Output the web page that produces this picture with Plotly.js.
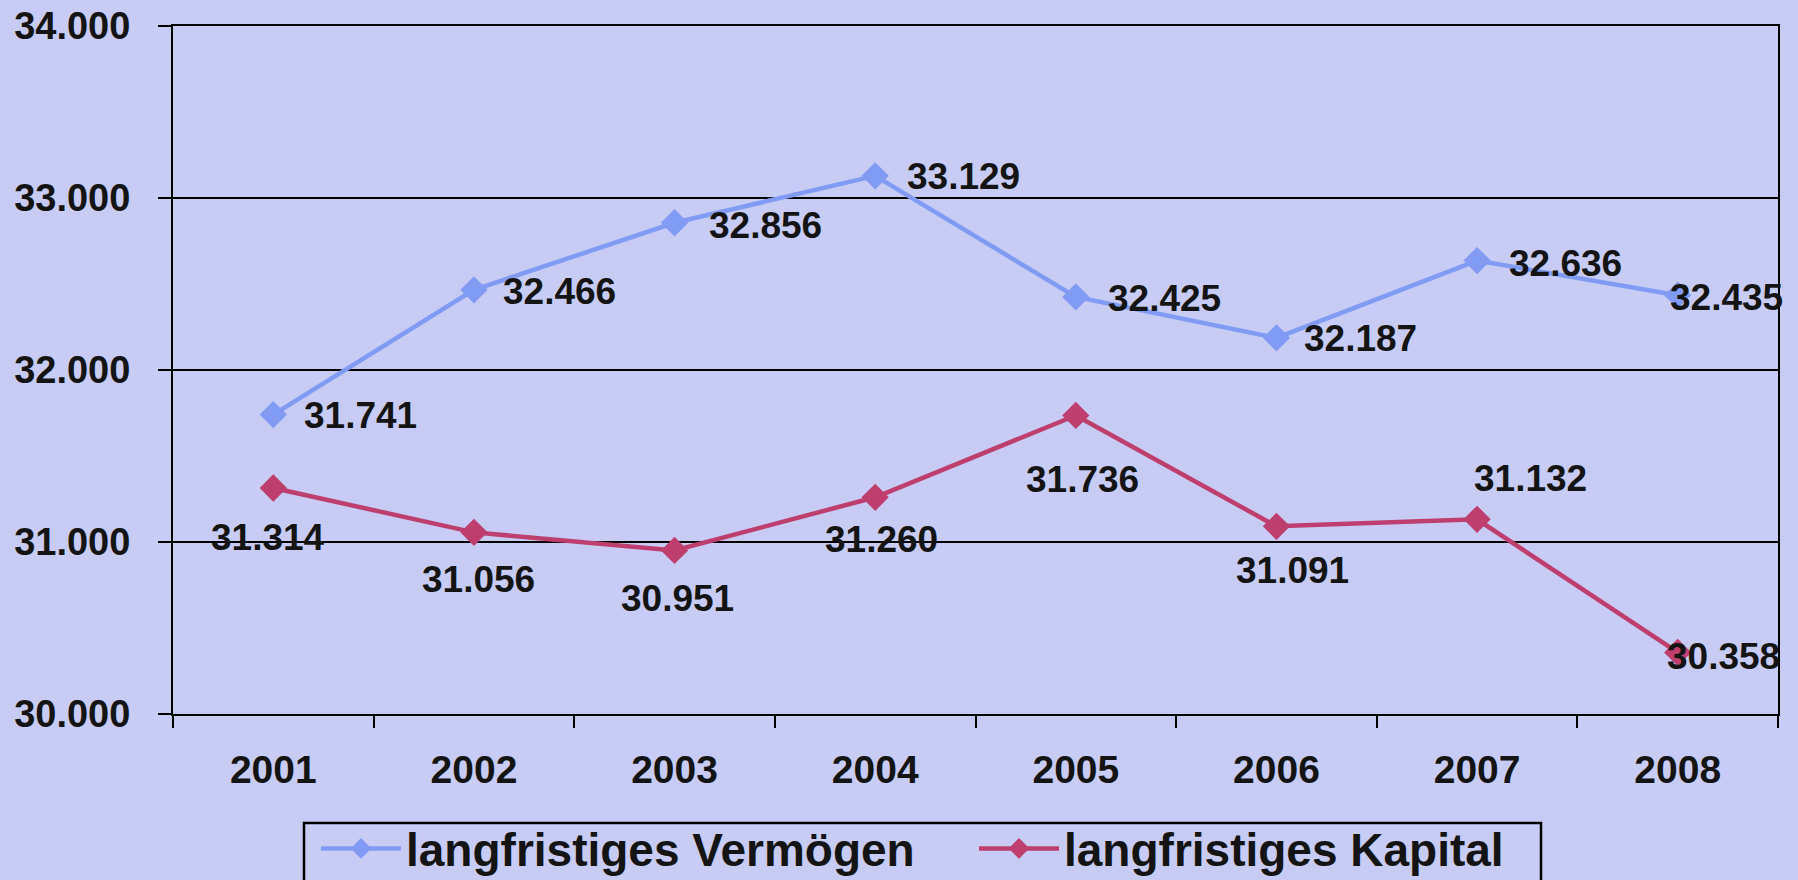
<!DOCTYPE html>
<html>
<head>
<meta charset="utf-8">
<script src="https://cdn.plot.ly/plotly-3.0.1.min.js"></script>
<style>
  html, body { margin: 0; padding: 0; background: #C8CCF5; }
  #chart { width: 1798px; height: 880px; }
</style>
</head>
<body>
<div id="chart"></div>
<script>
// ---- data ----
const years = ['2001', '2002', '2003', '2004', '2005', '2006', '2007', '2008'];
const seriesNames = ['langfristiges Vermögen', 'langfristiges Kapital'];
const vermoegen = [31741, 32466, 32856, 33129, 32425, 32187, 32636, 32435];
const kapital = [31314, 31056, 30951, 31260, 31736, 31091, 31132, 30358];
const yTickVals = [30000, 31000, 32000, 33000, 34000];
const yTickText = ['30.000', '31.000', '32.000', '33.000', '34.000'];

// ---- label placement (pixel offsets, style only) ----
const vermLabelDx = [29, 27, 32, 30, 30, 26, 30, -10];
const vermLabelDy = [-1, -2, -3, -1, -2, -1, -3, -2];
const kapLabelDx = [-5, 5, 3, 6, 7, 16, 53, 46];
const kapLabelDy = [-50, -47, -48, -42, -64, -44, 41, -4];

// ---- style ----
const BLUE = '#829BF2';
const RED = '#BE3F6E';
const BG = '#C8CCF5';
const TXT = '#141414';
const FONT = 'Liberation Sans, Arial, sans-serif';

// plot area in px (used only to place the legend box in paper units)
const W = 1798, H = 880, ML = 173, MR = 20, MT = 26, MB = 166;
const PW = W - ML - MR, PH = H - MT - MB;
const px2x = p => (p - ML) / PW;
const px2y = p => (H - MB - p) / PH;

function fmt(v) { return (v / 1000).toFixed(3); }

const traces = [
  {
    type: 'scatter', mode: 'lines+markers', name: seriesNames[0],
    x: years, y: vermoegen,
    line: { color: BLUE, width: 4.5 },
    marker: { symbol: 'diamond', size: 21, color: BLUE },
    cliponaxis: false, legend: 'legend'
  },
  {
    type: 'scatter', mode: 'lines+markers', name: seriesNames[1],
    x: years, y: kapital,
    line: { color: RED, width: 4.5 },
    marker: { symbol: 'diamond', size: 21, color: RED },
    cliponaxis: false, legend: 'legend2'
  }
];

const labelFont = { family: FONT, size: 37, color: TXT, weight: 'bold' };
const annotations = [];
vermoegen.forEach((v, i) => {
  annotations.push({
    x: i, y: v, xref: 'x', yref: 'y', text: fmt(v), showarrow: false,
    xanchor: 'left', yanchor: 'middle', xshift: vermLabelDx[i], yshift: vermLabelDy[i],
    font: labelFont
  });
});
kapital.forEach((v, i) => {
  annotations.push({
    x: i, y: v, xref: 'x', yref: 'y', text: fmt(v), showarrow: false,
    xanchor: 'center', yanchor: 'middle', xshift: kapLabelDx[i], yshift: kapLabelDy[i],
    font: labelFont
  });
});

const legendFont = { family: FONT, size: 46, color: TXT, weight: 'bold' };

const layout = {
  width: W, height: H,
  margin: { l: ML, r: MR, t: MT, b: MB, pad: 0, autoexpand: false },
  paper_bgcolor: BG, plot_bgcolor: BG,
  font: { family: FONT, color: TXT },
  showlegend: true,
  xaxis: {
    type: 'category', range: [-0.5, 7.5], fixedrange: true, automargin: false,
    showgrid: false, zeroline: false,
    showline: true, linecolor: '#000', linewidth: 2, mirror: true,
    ticks: 'outside', tickson: 'boundaries', ticklen: 12, tickwidth: 2, tickcolor: '#000',
    tickfont: { family: FONT, size: 39, color: TXT, weight: 'bold' },
    ticklabelstandoff: 20
  },
  yaxis: {
    range: [30000, 34000], fixedrange: true, automargin: false,
    tickvals: yTickVals, ticktext: yTickText,
    showgrid: true, gridcolor: '#000', gridwidth: 2, zeroline: false,
    showline: true, linecolor: '#000', linewidth: 2, mirror: true,
    ticks: 'outside', ticklen: 13, tickwidth: 2, tickcolor: '#000',
    tickfont: { family: FONT, size: 38, color: TXT, weight: 'bold' },
    ticklabelstandoff: 20
  },
  legend: {
    orientation: 'h', x: px2x(316), xanchor: 'left', y: px2y(812), yanchor: 'top',
    bgcolor: 'rgba(0,0,0,0)', borderwidth: 0,
    font: legendFont, itemwidth: 80
  },
  legend2: {
    orientation: 'h', x: px2x(974), xanchor: 'left', y: px2y(812), yanchor: 'top',
    bgcolor: 'rgba(0,0,0,0)', borderwidth: 0,
    font: legendFont, itemwidth: 80
  },
  shapes: [{
    type: 'rect', xref: 'paper', yref: 'paper',
    x0: px2x(304), x1: px2x(1541), y0: px2y(823), y1: px2y(905),
    line: { color: '#000', width: 2.5 }, fillcolor: 'rgba(0,0,0,0)', layer: 'above'
  }],
  annotations: annotations
};

Plotly.newPlot('chart', traces, layout, { staticPlot: true, displayModeBar: false });
</script>
</body>
</html>
